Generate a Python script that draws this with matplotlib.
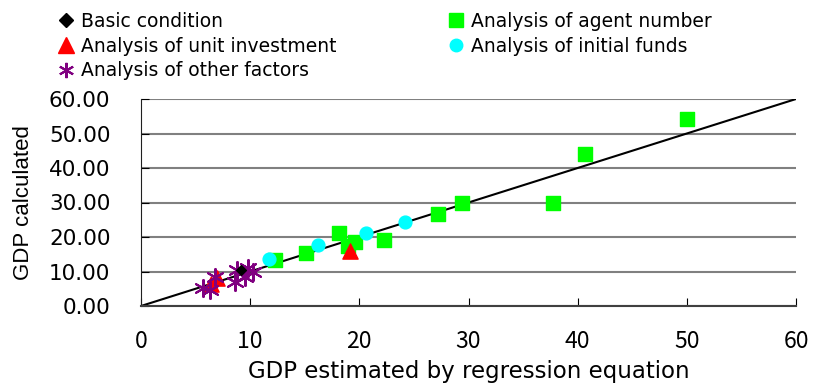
import numpy as np
import matplotlib.pyplot as plt
from matplotlib.lines import Line2D

# Basic condition
basic_x = [9.2]
basic_y = [10.4]

# Analysis of unit investment
unit_x = [6.4, 7.0, 19.1]
unit_y = [6.5, 8.0, 16.0]

# Analysis of other factors
other_x = [5.7, 6.3, 6.8, 8.6, 8.8, 9.5, 9.8, 10.3]
other_y = [5.3, 4.6, 8.5, 7.0, 10.4, 8.5, 11.0, 10.0]

# Analysis of agent number
agent_x = [12.3, 15.1, 18.1, 19.0, 19.6, 22.3, 27.2, 29.4, 37.7, 40.7, 50.0]
agent_y = [13.3, 15.4, 21.2, 17.3, 18.5, 19.1, 26.7, 29.9, 29.9, 44.1, 54.2]

# Analysis of initial funds
funds_x = [11.7, 16.2, 20.6, 24.2]
funds_y = [13.6, 17.7, 21.2, 24.3]

line_x = [0, 60]
line_y = [0, 60]

narrow = ['Noto Sans CJK JP', 'DejaVu Sans']
arial = ['Liberation Sans', 'DejaVu Sans']

fig = plt.figure(figsize=(8.13, 3.87), dpi=100)
ax = fig.add_axes([141/813, 81/387, 655/813, 207/387])

ax.plot(line_x, line_y, color='black', lw=1.5, zorder=2)
ax.scatter(agent_x, agent_y, marker='s', s=95, color='#00ff00', zorder=3)
ax.scatter(funds_x, funds_y, marker='o', s=85, color='#00ffff', zorder=3)
ax.scatter(unit_x, unit_y, marker='^', s=120, color='red', zorder=4)
ax.scatter(other_x, other_y, marker=(6, 2, 0), s=150, color='#800080', lw=1.5, zorder=5)
ax.scatter(basic_x, basic_y, marker='D', s=25, color='black', zorder=6)

ax.set_xlim(0, 60)
ax.set_ylim(0, 60)
ax.set_xticks(range(0, 61, 10))
ax.set_yticks(range(0, 61, 10))
ax.set_yticklabels([f'{v:.2f}' for v in range(0, 61, 10)], fontsize=15.5, family='DejaVu Sans')
ax.set_xticklabels([str(v) for v in range(0, 61, 10)], fontsize=16.5, family=narrow)
ax.yaxis.grid(True, color='#808080', lw=1.5)
ax.set_axisbelow(True)
ax.tick_params(axis='x', direction='in', length=6, pad=17, color='black')
ax.tick_params(axis='y', direction='in', length=6, pad=22, color='black')
ax.spines['top'].set_visible(False)
ax.spines['right'].set_visible(False)
ax.spines['left'].set_color('#202020')
ax.spines['bottom'].set_color('#404040')
ax.spines['bottom'].set_linewidth(1.5)

ax.set_xlabel('GDP estimated by regression equation', fontsize=16.5, family='DejaVu Sans')
ax.xaxis.set_label_coords(0.5, -0.262)
ax.set_ylabel('GDP calculated', fontsize=16, family=arial, labelpad=11)

handles = [
    Line2D([], [], ls='none', marker='D', ms=7, color='black'),
    Line2D([], [], ls='none', marker='^', ms=11, color='red'),
    Line2D([], [], ls='none', marker=(6, 2, 0), ms=11, mew=1.5, color='#800080'),
    Line2D([], [], ls='none', marker='s', ms=10, color='#00ff00'),
    Line2D([], [], ls='none', marker='o', ms=9, color='#00ffff'),
]
labels = ['Basic condition', 'Analysis of unit investment', 'Analysis of other factors',
          'Analysis of agent number', 'Analysis of initial funds']
fig.legend(handles, labels, loc='upper left', bbox_to_anchor=(58/813, 1 - 12/387), ncol=2,
           frameon=False, prop={'family': 'DejaVu Sans', 'size': 13.5}, handlelength=0.8,
           handletextpad=0.4, labelspacing=0.3, columnspacing=6.0, borderpad=0,
           borderaxespad=0)

fig.savefig('out.png', dpi=100)
